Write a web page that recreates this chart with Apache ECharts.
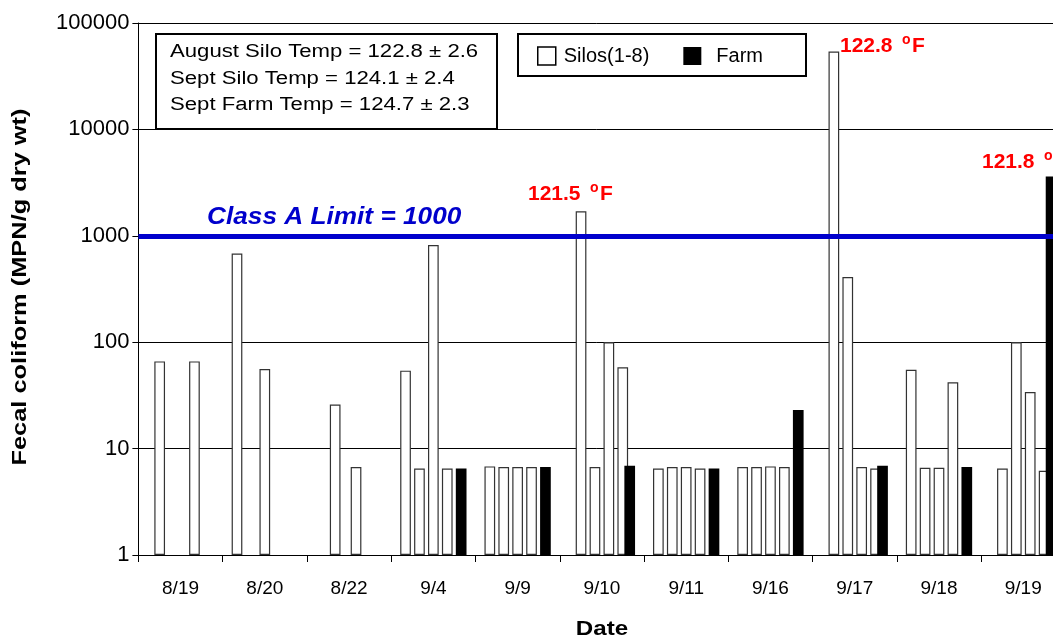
<!DOCTYPE html>
<html><head><meta charset="utf-8">
<script src="https://cdn.jsdelivr.net/npm/echarts@6/dist/echarts.min.js"></script>
<style>html,body{margin:0;padding:0;background:#fff;overflow:hidden}#c{width:1053px;height:639px}</style>
</head><body><div id="c"></div>
<script>
// ---- data ----
const dates = ['8/19','8/20','8/22','9/4','9/9','9/10','9/11','9/16','9/17','9/18','9/19'];
const silo1 = [null, 680, null, 54, 6.8, null, 6.5, 6.7, null, 55, null];
const silo2 = [66, null, null, null, null, 1700, null, null, 54000, null, 6.5];
const silo3 = [null, null, 26, 6.5, 6.7, null, 6.7, 6.7, null, 6.6, null];
const silo4 = [null, null, null, null, null, 6.7, null, null, 410, null, 100];
const silo5 = [null, 56, null, 820, 6.7, null, 6.7, 6.8, null, 6.6, null];
const silo6 = [null, null, 6.7, null, null, 100, null, null, 6.7, null, 34];
const silo7 = [66, null, null, 6.5, 6.7, null, 6.5, 6.7, null, 42, null];
const silo8 = [null, null, null, null, null, 58, null, null, 6.5, null, 6.2];
const farm  = [null, null, null, 6.5, 6.7, 6.9, 6.5, 23, 6.9, 6.7, 3600];
const classALimit = 1000;
const limitText = 'Class A Limit = 1000';
const tempNotes = ['August Silo Temp = 122.8 \u00b1 2.6', 'Sept Silo Temp = 124.1 \u00b1 2.4', 'Sept Farm Temp = 124.7 \u00b1 2.3'];
const peakTemps = ['121.5', '122.8', '121.8'];
const legendNames = ['Silos(1-8)', 'Farm'];
const yTitle = 'Fecal coliform (MPN/g dry wt)';
const xTitle = 'Date';

// ---- chart ----
const FONT = '"Liberation Sans", Arial, sans-serif';
const chart = echarts.init(document.getElementById('c'), null, {renderer: 'canvas'});
const siloSeries = [silo1, silo2, silo3, silo4, silo5, silo6, silo7, silo8];
const common = {type: 'bar', barGap: '-35%', barCategoryGap: '21.3%', animation: false};
const series = siloSeries.map(d => Object.assign({}, common, {
  name: legendNames[0], data: d,
  itemStyle: {color: '#ffffff', borderColor: '#333', borderWidth: 1.2}
}));
series.push(Object.assign({}, common, {
  name: legendNames[1], data: farm,
  itemStyle: {color: '#000000'},
  markLine: {silent: true, symbol: 'none', animation: false,
    data: [{yAxis: classALimit}],
    lineStyle: {color: '#0000CC', width: 5, type: 'solid'},
    label: {show: false}}
}));

function txt(t, x, y, font, fill, opts) {
  return Object.assign({type: 'text', x: x, y: y, z: 12,
    style: {text: t, font: font, fill: fill, align: 'left', verticalAlign: 'top'}}, opts || {});
}
function redNote(t, x, y, withF) {
  const els = [txt(t, x, y, 'bold 21px ' + FONT, '#FF0000')];
  const w = t.length * 11.2;
  els.push(txt('o', x + w + 6, y - 3, 'bold 14px ' + FONT, '#FF0000'));
  if (withF) els.push(txt('F', x + w + 16, y, 'bold 21px ' + FONT, '#FF0000'));
  return els;
}

const graphic = [
  {type: 'rect', shape: {x: 156, y: 34, width: 341, height: 95}, style: {fill: '#fff', stroke: '#000', lineWidth: 2}, z: 10},
  {type: 'rect', shape: {x: 518, y: 34, width: 288, height: 42}, style: {fill: '#fff', stroke: '#000', lineWidth: 2}, z: 10},
  txt(limitText, 207, 206, 'italic bold 23px ' + FONT, '#0000CC', {scaleX: 1.14}),
  {type: 'text', x: 20.5, y: 287, rotation: Math.PI / 2, scaleX: 1.27, z: 12,
    style: {text: yTitle, font: 'bold 20px ' + FONT, fill: '#000', align: 'center', verticalAlign: 'middle'}},
  {type: 'text', x: 602, y: 629, scaleX: 1.15, z: 12,
    style: {text: xTitle, font: 'bold 21px ' + FONT, fill: '#000', align: 'center', verticalAlign: 'middle'}}
];
tempNotes.forEach((t, i) => graphic.push(txt(t, 170, 43 + i * 26.6, '18px ' + FONT, '#000', {scaleX: 1.23})));
graphic.push(...redNote(peakTemps[0], 528, 184, true));
graphic.push(...redNote(peakTemps[1], 840, 36, true));
graphic.push(...redNote(peakTemps[2], 982, 152, false));

chart.setOption({
  animation: false,
  backgroundColor: '#fff',
  textStyle: {fontFamily: FONT, color: '#000'},
  grid: {left: 138.4, top: 23, width: 927, height: 532, containLabel: false, outerBoundsMode: 'none'},
  legend: {
    left: 537, top: 46, padding: 0, itemWidth: 18, itemHeight: 18, itemGap: 34, z: 20,
    textStyle: {fontSize: 20, color: '#000', fontFamily: FONT, padding: [0, 0, 0, 3]},
    data: [
      {name: legendNames[0], icon: 'rect', itemStyle: {color: '#fff', borderColor: '#000', borderWidth: 1.5}},
      {name: legendNames[1], icon: 'rect', itemStyle: {color: '#000'},
       textStyle: {fontSize: 20, color: '#000', fontFamily: FONT, padding: [0, 0, 0, 10]}}
    ],
    selectedMode: false
  },
  xAxis: {
    type: 'category', data: dates, boundaryGap: true,
    axisLine: {lineStyle: {color: '#000', width: 1}},
    axisTick: {show: true, length: 7, lineStyle: {color: '#000'}},
    axisLabel: {fontSize: 19, color: '#000', margin: 24, fontFamily: FONT},
    splitLine: {show: false}
  },
  yAxis: {
    type: 'log', logBase: 10, min: 1, max: 100000,
    axisLine: {show: true, lineStyle: {color: '#000', width: 1}},
    axisTick: {show: true, length: 6, lineStyle: {color: '#000'}},
    axisLabel: {fontSize: 22, color: '#000', margin: 9, fontFamily: FONT, formatter: v => String(Math.round(v))},
    splitLine: {show: true, lineStyle: {color: '#000', width: 1}}
  },
  graphic: graphic,
  series: series
});
</script></body></html>
